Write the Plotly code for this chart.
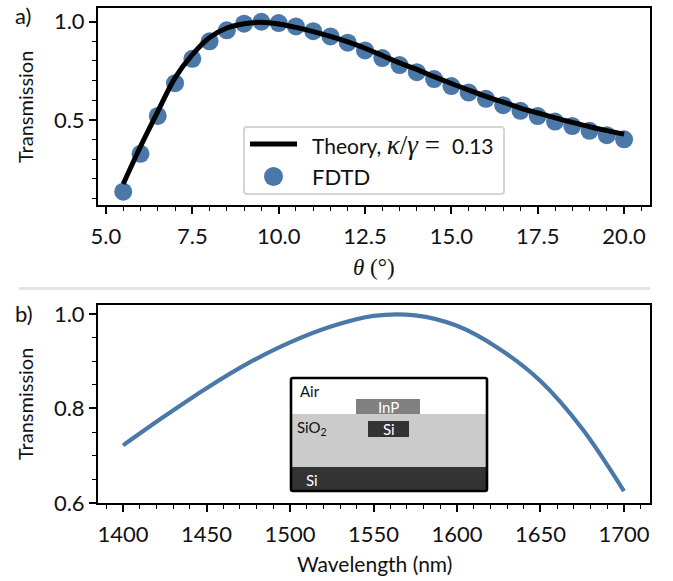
import plotly.graph_objects as go

W, H = 673, 581
theta_fdtd = [5.5 + 0.5 * i for i in range(30)]
trans_fdtd = [.134, .327, .52, .687, .811, .90, .956, .99, 1.0, .993, .976, .952, .925, .893, .854,
              .815, .779, .743, .708, .672, .639, .607, .575, .546, .519, .491, .468, .444, .422, .401]
theta_theory = theta_fdtd
trans_theory = [.173, .364, .542, .714, .832, .92, .968, .99, .997, .988, .971, .95, .925, .897, .865,
                .828, .79, .757, .72, .685, .652, .62, .59, .56, .535, .51, .487, .465, .445, .427]
wavelength = [1400, 1425, 1450, 1475, 1500, 1525, 1550, 1575, 1600, 1625, 1650, 1675, 1700]
trans_wl = [.722, .784, .843, .896, .94, .974, .996, .997, .975, .927, .858, .757, .625]
y_ticks_a = [0.5, 1.0]
y_ticks_b = [0.6, 0.8, 1.0]

FONT = "Lato"
BLUE = "#4a78a8"
MATH = "Liberation Serif"
fig = go.Figure()
fig.add_trace(go.Scatter(x=theta_fdtd, y=trans_fdtd, mode="markers", name="FDTD", showlegend=False,
                         marker=dict(color=BLUE, size=18, line=dict(width=0)), xaxis="x", yaxis="y"))
fig.add_trace(go.Scatter(x=theta_theory, y=trans_theory, mode="lines", name="Theory", showlegend=False,
                         line=dict(color="black", width=5, shape="spline"), xaxis="x", yaxis="y"))
fig.add_trace(go.Scatter(x=wavelength, y=trans_wl, mode="lines", showlegend=False,
                         line=dict(color=BLUE, width=4.2, shape="spline"), xaxis="x2", yaxis="y2"))

def px(x): return x / W
def py(y): return 1 - y / H

L, R = 98, 650
minor_style = dict(ticks="outside", ticklen=4, tickwidth=1.2, tickcolor="black")
common = dict(showline=True, linecolor="black", linewidth=2, mirror=True, showgrid=False, zeroline=False,
              automargin=False, ticks="outside", tickwidth=1.5, ticklen=7, tickcolor="black",
              tickfont=dict(family=FONT, size=22, color="#111"))
fig.update_layout(
    width=W, height=H, margin=dict(l=0, r=0, t=0, b=0), paper_bgcolor="white", plot_bgcolor="white",
    showlegend=False, font=dict(family=FONT, color="#111"),
    xaxis=dict(domain=[px(L), px(R)], anchor="y", range=[4.77, 20.75], tickvals=[5, 7.5, 10, 12.5, 15, 17.5, 20],
               ticktext=["5.0", "7.5", "10.0", "12.5", "15.0", "17.5", "20.0"], ticklabelstandoff=4,
               minor=dict(dtick=0.5, **minor_style), **common),
    yaxis=dict(domain=[py(205), py(8)], anchor="x", range=[0.066, 1.07], tickvals=y_ticks_a, tickformat=".1f",
               ticksuffix="\u00a0", minor=dict(dtick=0.1, **minor_style), **common),
    xaxis2=dict(domain=[px(L), px(R)], anchor="y2", range=[1385, 1715.6], tickvals=list(range(1400, 1701, 50)),
                ticklabelstandoff=4, minor=dict(dtick=10, **minor_style), **common),
    yaxis2=dict(domain=[py(503), py(305)], anchor="x2", range=[0.6, 1.019], tickvals=y_ticks_b, tickformat=".1f",
                ticksuffix="\u00a0", minor=dict(dtick=0.05, **minor_style), **common),
)

def rect(x0, y0, x1, y1, fill="rgba(0,0,0,0)", line=None, lw=0):
    fig.add_shape(type="rect", xref="paper", yref="paper", x0=px(x0), x1=px(x1), y0=py(y0), y1=py(y1),
                  fillcolor=fill, line=dict(color=line or fill, width=lw), layer="above")

def rrect(x0, y0, x1, y1, r, fill, line, lw):
    p = (f"M {px(x0+r)} {py(y0)} L {px(x1-r)} {py(y0)} Q {px(x1)} {py(y0)} {px(x1)} {py(y0+r)} "
         f"L {px(x1)} {py(y1-r)} Q {px(x1)} {py(y1)} {px(x1-r)} {py(y1)} "
         f"L {px(x0+r)} {py(y1)} Q {px(x0)} {py(y1)} {px(x0)} {py(y1-r)} "
         f"L {px(x0)} {py(y0+r)} Q {px(x0)} {py(y0)} {px(x0+r)} {py(y0)} Z")
    fig.add_shape(type="path", xref="paper", yref="paper", path=p, fillcolor=fill,
                  line=dict(color=line, width=lw), layer="above")

def text(x, y, s, size, color="#111", anchor="left", angle=0):
    fig.add_annotation(xref="paper", yref="paper", x=px(x), y=py(y), text=s, showarrow=False, xanchor=anchor,
                       yanchor="middle", textangle=angle, font=dict(family=FONT, size=size, color=color))

# axis titles
text(25, 107, "Transmission", 20, anchor="center", angle=-90)
text(25, 404, "Transmission", 20, anchor="center", angle=-90)
text(374, 267, f'<span style="font-family:{MATH}"><i>θ</i>&nbsp;(°)</span>', 23, anchor="center")
text(374, 563, "Wavelength (nm)", 21, anchor="center")

# separator and panel labels
rect(19, 287, 650, 290, fill="#e4e4e4")
text(13, 15, "a)", 22)
text(13, 313, "b)", 22)

# legend
rrect(244, 127, 504, 194, 3, "white", "#d4d4d4", 2)
fig.add_shape(type="line", xref="paper", yref="paper", x0=px(250), x1=px(297), y0=py(144), y1=py(144),
              line=dict(color="black", width=5), layer="above")
fig.add_shape(type="circle", xref="paper", yref="paper", x0=px(264), x1=px(283), y0=py(167), y1=py(186),
              fillcolor=BLUE, line=dict(width=0), layer="above")
text(310, 145, f'Theory,&nbsp;<span style="font-family:{MATH};font-size:27px"><i>κ</i>/<i>γ</i>&nbsp;=&nbsp;</span>&nbsp;0.13', 21)
text(310, 176, "FDTD", 22)

# inset schematic
rect(292, 379, 486, 491, fill="white")
rect(292, 414, 486, 467, fill="#cbcbcb")
rect(292, 467, 486, 491, fill="#333333")
rect(356, 399, 420, 414, fill="#808080")
rect(368, 421, 409, 437, fill="#333333")
rrect(291, 378, 487, 491, 2, "rgba(0,0,0,0)", "black", 2.6)
text(298, 391, "Air", 15)
text(295, 428, "SiO<sub>2</sub>", 15)
text(304, 480, "Si", 15, color="white")
text(389, 407, "InP", 15, color="white", anchor="center")
text(389, 429, "Si", 15, color="white", anchor="center")

fig.write_html("out.html", post_script="document.body.style.margin='0';", config=dict(displayModeBar=False))
